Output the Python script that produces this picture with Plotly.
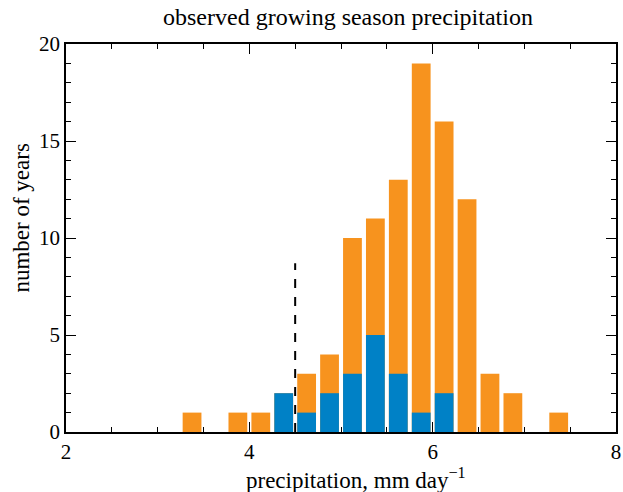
import plotly.graph_objects as go

bin_centers = [3.375, 3.625, 3.875, 4.125, 4.375, 4.625, 4.875, 5.125, 5.375,
               5.625, 5.875, 6.125, 6.375, 6.625, 6.875, 7.125, 7.375]
total_counts = [1, 0, 1, 1, 2, 3, 4, 10, 11, 13, 19, 16, 12, 3, 2, 0, 1]
subset_counts = [0, 0, 0, 0, 2, 1, 2, 3, 5, 3, 1, 2, 0, 0, 0, 0, 0]
threshold_x = [4.5, 4.5]
threshold_y = [0, 8.7]
x_ticks = [2, 4, 6, 8]
y_ticks = [0, 5, 10, 15, 20]

title_text = "observed growing season precipitation"
x_label = "precipitation, mm day<sup>\u22121</sup>"
y_label = "number of years"

ORANGE = "#F7931E"
BLUE = "#0081C6"
FONT = "Liberation Serif"

fig = go.Figure()
fig.add_trace(go.Bar(x=bin_centers, y=total_counts, width=0.205,
                     marker=dict(color=ORANGE, line=dict(width=0)), showlegend=False))
fig.add_trace(go.Bar(x=bin_centers, y=subset_counts, width=0.205,
                     marker=dict(color=BLUE, line=dict(width=0)), showlegend=False))
fig.add_trace(go.Scatter(x=threshold_x, y=threshold_y, mode="lines",
                         line=dict(color="black", width=2, dash="dash"), showlegend=False))

axis_common = dict(
    showline=True, linecolor="black", linewidth=1.5, mirror="allticks",
    ticks="inside", ticklen=10, tickwidth=1.2, tickcolor="black",
    showgrid=False, zeroline=False,
    tickfont=dict(family=FONT, size=21, color="black"),
)

fig.update_layout(
    width=623, height=492,
    margin=dict(l=66, r=7, t=44, b=60, autoexpand=False),
    paper_bgcolor="white", plot_bgcolor="white",
    barmode="overlay",
    font=dict(family=FONT, color="black"),
    xaxis=dict(range=[2, 8], tickvals=x_ticks,
               minor=dict(dtick=0.5, ticks="inside", ticklen=5, tickwidth=1.2, tickcolor="black"),
               **axis_common),
    yaxis=dict(range=[0, 20], tickvals=y_ticks,
               minor=dict(dtick=1, ticks="inside", ticklen=5, tickwidth=1.2, tickcolor="black"),
               **axis_common),
    annotations=[
        dict(text=title_text, xref="paper", yref="paper", x=0.513, y=1.0696,
             xanchor="center", yanchor="middle", showarrow=False,
             font=dict(family=FONT, size=24, color="black")),
        dict(text=x_label, xref="paper", yref="paper", x=0.528, y=-0.1186,
             xanchor="center", yanchor="middle", showarrow=False,
             font=dict(family=FONT, size=23, color="black")),
        dict(text=y_label, xref="paper", yref="paper", x=-0.08, y=0.55,
             xanchor="center", yanchor="middle", showarrow=False, textangle=-90,
             font=dict(family=FONT, size=23, color="black")),
    ],
)

fig.write_html("out.html", config={"displayModeBar": False},
               post_script="document.body.style.margin='0';")
